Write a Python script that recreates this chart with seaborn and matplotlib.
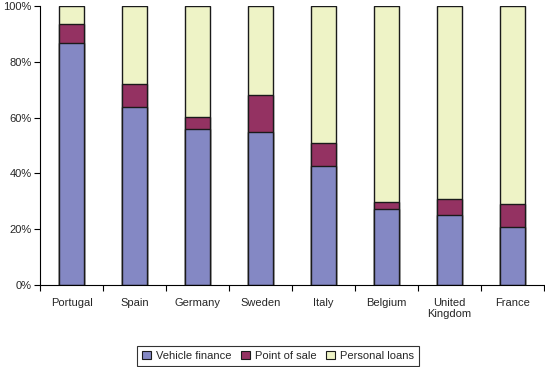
import seaborn as sns
import pandas as pd
import numpy as np
import matplotlib
matplotlib.use("Agg")
import matplotlib.pyplot as plt
from matplotlib.ticker import FixedLocator, PercentFormatter
from matplotlib.patches import Patch

countries = ["Portugal", "Spain", "Germany", "Sweden", "Italy", "Belgium",
             "United\nKingdom", "France"]
vehicle_finance = [86.6, 63.7, 55.9, 54.8, 42.6, 27.2, 25.1, 20.8]
point_of_sale = [6.8, 8.3, 4.2, 13.2, 8.2, 2.6, 5.7, 8.2]
personal_loans = [6.6, 28.0, 39.9, 32.0, 49.2, 70.2, 69.2, 71.0]

colors = {"Vehicle finance": "#8488c4",
          "Point of sale": "#943262",
          "Personal loans": "#eef3c6"}

sns.set_style("white")
plt.rcParams['font.family'] = ['Liberation Sans', 'DejaVu Sans']

df = pd.DataFrame({"country": countries,
                   "vf": vehicle_finance,
                   "pos": point_of_sale,
                   "pl": personal_loans})
df["top"] = df["vf"] + df["pos"] + df["pl"]
df["mid"] = df["vf"] + df["pos"]

fig = plt.figure(figsize=(5.45, 3.67), dpi=100)
ax = fig.add_axes([40 / 545, 1 - 285 / 367, 504 / 545, 279 / 367])

# stacked bars: draw cumulative totals back to front
for col, label in [("top", "Personal loans"), ("mid", "Point of sale"), ("vf", "Vehicle finance")]:
    sns.barplot(data=df, x="country", y=col, color=colors[label], width=0.41,
                edgecolor="#1a1a1a", linewidth=1.0, saturation=1, ax=ax)

ax.set_xlim(-0.5, len(countries) - 0.5)
ax.set_ylim(0, 100)
ax.set_xlabel("")
ax.set_ylabel("")
ax.yaxis.set_major_locator(FixedLocator([0, 20, 40, 60, 80, 100]))
ax.yaxis.set_major_formatter(PercentFormatter(decimals=0))
ax.xaxis.set_minor_locator(FixedLocator(np.arange(-0.5, len(countries), 1.0)))
ax.tick_params(axis="x", which="major", length=0, labelsize=8, pad=9)
ax.tick_params(axis="x", which="minor", length=4, width=0.8, color="black", direction="out", bottom=True)
ax.tick_params(axis="y", length=4, width=0.8, color="black", direction="out", left=True, labelsize=8, pad=2)
for s in ["top", "right"]:
    ax.spines[s].set_visible(False)
for s in ["left", "bottom"]:
    ax.spines[s].set_color("black")
    ax.spines[s].set_linewidth(0.8)

handles = [Patch(facecolor=colors[k], edgecolor="#1a1a1a", linewidth=0.8, label=k)
           for k in ["Vehicle finance", "Point of sale", "Personal loans"]]
leg = fig.legend(handles=handles, loc="center", bbox_to_anchor=(278 / 545, 1 - 356 / 367),
                 ncol=3, fontsize=8, frameon=True, fancybox=False, handlelength=0.8,
                 handleheight=0.8, handletextpad=0.4, columnspacing=0.9, borderpad=0.45)
leg.get_frame().set_edgecolor("black")
leg.get_frame().set_linewidth(0.8)

fig.savefig("out.png", dpi=100)
